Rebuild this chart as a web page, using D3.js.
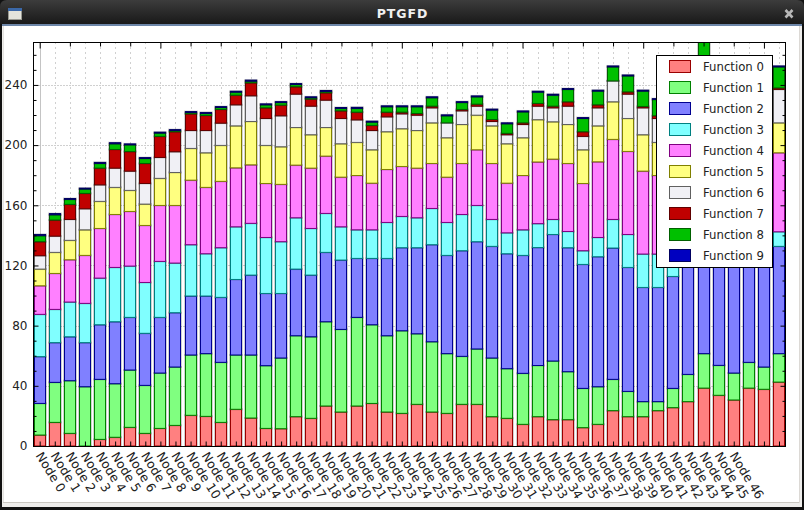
<!DOCTYPE html>
<html>
<head>
<meta charset="utf-8">
<title>PTGFD</title>
<script src="https://cdn.jsdelivr.net/npm/d3@7"></script>
<style>
  html, body { margin: 0; padding: 0; background: #fff; }
  svg { display: block; }
  text { font-family: "DejaVu Sans", sans-serif; }
</style>
</head>
<body>
<div id="chart"></div>
<script>
const width = 804;
const height = 510;
const plot = { left: 33.5, right: 785.5, top: 42.5, bottom: 446.5 };

const functionNames = ["Function 0", "Function 1", "Function 2", "Function 3", "Function 4",
                       "Function 5", "Function 6", "Function 7", "Function 8", "Function 9"];
const fills = ["#ff8080", "#80ff80", "#8080ff", "#80ffff", "#ff80ff", "#ffff80", "#f0f0f5", "#c00000", "#00c000", "#0000c0"];
const edges = ["#990000", "#008000", "#000090", "#008080", "#800080", "#808000", "#606060", "#600000", "#006000", "#000060"];

const f0 = [7.3,15.7,8.4,0,4.4,5.8,12.4,8.4,11.7,13.7,20.4,19.7,15.7,24.4,18.6,11.7,11.5,19.5,18.4,26.6,22.6,26.6,28.3,22.6,21.7,27.7,22.6,21.7,27.7,27.7,19.5,18.4,14.4,19.5,17.5,17.5,12.2,14.4,23.5,19.5,19.5,23.5,25.5,29.5,38.5,33.7,30.6,38.5,37.7,42.5];
const f1 = [21,26.6,35,39.4,39.9,35.6,38.1,31.9,36.8,38.8,40.1,41.7,39.9,36.1,41.9,41.7,47,53.8,54.2,56,54.9,58.9,52.3,50.7,54.9,46.9,46.7,39.7,31.9,36.8,39,33,33.9,34,39,31.9,26.1,25,20.8,16.8,10,6,12.8,18.1,22.9,19.9,17.9,17.1,14.8,18.9];
const f2 = [31.1,26.4,29.2,29.3,36.3,41.2,35,34.6,37,36.1,39.2,38.3,43.2,50.2,53.1,48,42.9,44.3,41,46.1,46.1,39.2,44.1,51.4,55.2,57.2,64.5,65.3,70.2,71.3,74.2,76.4,78.4,78.4,84.1,82.4,82.4,86.4,87.3,82.4,75.9,75.9,74.4,78,73.6,80,84,76,80,71.3];
const f3 = [28.1,22.1,23.1,26.1,31,36.1,34.1,33.8,37.2,33,34.1,28.1,33,35,34.4,37.2,34.4,34.1,31,25.9,22.1,19,19,23.9,20.8,19.9,24.1,21.9,24.1,24.1,17.9,13.9,17,15.9,10,10.8,9.1,12.8,19,21.9,22.2,22.2,15,10,15,10,11,10,10,9.7];
const f4 = [19,23.9,28.1,31.9,33,35.2,36.3,37.9,37.2,38.3,42.9,44.1,44.1,39.2,38.9,35.9,38.1,35,40.1,38.1,33,36.1,31,35.2,33.2,33,29.9,30.1,33.9,37,37.2,33,36.1,41,40.1,45.2,44.7,50.3,53.2,55.2,55.1,52.2,52,50,55,50,50,52,53,52.5];
const f5 = [11.1,14,12.9,17,18,18,14,14.2,18,21.9,21.1,23,23.9,27.9,28.8,25.3,25,25,22.2,19,22.2,22,22.2,25.1,25.1,25,27,26.2,25.9,23,25,26.2,25.1,28.1,24.8,25.9,22.4,23.9,25,21.9,24.2,22,24,24,27,22,23,22,22,19.9];
const f6 = [8.9,10.8,13.9,14,11,12.8,12.8,13.7,13.9,13.8,11.9,14.8,14.8,14,17.1,17.9,20.6,22.2,19,18.2,16.8,15,12.8,9.9,9.9,10.2,10,9.9,9.1,6,2.9,6,8.8,9,9.3,12.2,8.9,12,13.9,16.2,17.9,15.9,16,18,20,17,15,16,15,22.2];
const f7 = [9.3,10.7,10,10.2,11.1,12.4,13,13.3,14,13.3,11.1,10,9.1,6.4,8.6,7.1,7.1,4.9,4.7,4.9,5.1,5.1,3.4,3.1,1.1,1.1,1.1,0,0.9,1.3,1.3,0.9,1.1,1.8,1.1,2.9,3.1,2,0,1.5,0.9,1.8,1,2,2,1,1,1,1,1];
const f8 = [4,3.5,3.3,2.9,3.1,3.8,4.5,3.3,2.2,0.8,0.9,1.3,1.3,2,1.1,2,1.7,1.5,0.9,0.9,1.6,2.5,2.2,3.6,3.6,4.5,5.6,4.7,4.6,4.9,6.3,6.4,7.3,7.5,7.3,8.2,8.8,9.1,9.3,10.6,10.2,10.8,10,11,20,11,12,13,13,14];
const f9 = [0.8,0.8,0.6,0.6,0.7,0.7,0.6,0.6,0.6,0.6,0.6,0.7,0.6,0.6,0.7,0.6,0.6,0.6,0.6,0.6,0.6,0.7,0.6,0.6,0.6,0.6,0.6,0.6,0.6,0.6,0.6,0.6,0.6,0.6,0.6,0.6,0.6,0.6,0.6,0.6,0.6,0.6,0.6,0.6,0.6,0.6,0.6,0.6,0.6,0.6];

const seriesValues = [f0, f1, f2, f3, f4, f5, f6, f7, f8, f9];
const nodes = d3.range(f0.length);
const lastLabel = 46;   // the labels after this one run off the window in the original

const rows = nodes.map(i => {
  const row = { node: i };
  functionNames.forEach((name, k) => { row[name] = seriesValues[k][i]; });
  return row;
});
const stacked = d3.stack().keys(functionNames)(rows);

const x = d3.scaleLinear().domain([-0.41, 49.43]).range([plot.left, plot.right]);
const y = d3.scaleLinear().domain([0, 268.2]).range([plot.bottom - 0.5, plot.top]);
const barWidth = 12;

const svg = d3.select("#chart").append("svg")
  .attr("width", width)
  .attr("height", height);

const defs = svg.append("defs");
const titleGrad = defs.append("linearGradient").attr("id", "titlebar")
  .attr("x1", 0).attr("x2", 0).attr("y1", 0).attr("y2", 1);
titleGrad.append("stop").attr("offset", "0%").attr("stop-color", "#3c3c3c");
titleGrad.append("stop").attr("offset", "100%").attr("stop-color", "#191919");
defs.append("clipPath").attr("id", "plot-clip").append("rect")
  .attr("x", plot.left).attr("y", plot.top)
  .attr("width", plot.right - plot.left).attr("height", plot.bottom - plot.top);

// window frame
svg.append("rect").attr("width", width).attr("height", height).attr("fill", "#111");
svg.append("rect").attr("x", 2).attr("y", 24).attr("width", 800).attr("height", 483).attr("fill", "#eeedeb");
svg.append("rect").attr("x", 3).attr("y", 26).attr("width", 796.5).attr("height", 477).attr("fill", "#c9c6c0");
svg.append("rect").attr("x", 3.5).attr("y", 26).attr("width", 795.5).attr("height", 476).attr("fill", "#fff");
svg.append("path").attr("d", "M0,24V7Q0,0 7,0H797Q804,0 804,7V24Z").attr("fill", "url(#titlebar)");
svg.append("rect").attr("x", 2).attr("y", 24).attr("width", 800).attr("height", 2).attr("fill", "#6d86a8");

svg.append("text")
  .attr("x", 402.5).attr("y", 18)
  .attr("text-anchor", "middle")
  .attr("font-size", 12.5).attr("font-weight", "bold")
  .attr("letter-spacing", 0.9)
  .attr("fill", "#f0f0f0")
  .text("PTGFD");

// window icon and close button
svg.append("rect").attr("x", 8.5).attr("y", 8.5).attr("width", 13).attr("height", 11).attr("fill", "#e4e4dc").attr("stroke", "#9a9a92");
svg.append("rect").attr("x", 8).attr("y", 8).attr("width", 14).attr("height", 3).attr("fill", "#3b68a8");
svg.append("path").attr("d", "M785.5,10L792.5,17.5M792.5,10L785.5,17.5")
  .attr("stroke", "#b8b8b8").attr("stroke-width", 2.6).attr("fill", "none");

// grid
const grid = svg.append("g").attr("fill", "none");
grid.selectAll(".vgrid")
  .data(nodes.slice(1))
  .join("line")
  .attr("class", "vgrid")
  .attr("x1", d => Math.round(x(d)) + 0.5).attr("x2", d => Math.round(x(d)) + 0.5)
  .attr("y1", plot.top).attr("y2", plot.bottom)
  .attr("stroke", "#a0a0a0").attr("stroke-dasharray", "1,4");
grid.selectAll(".hgrid")
  .data([40, 80, 120, 160, 200, 240])
  .join("line")
  .attr("class", "hgrid")
  .attr("y1", d => Math.round(y(d)) + 0.5).attr("y2", d => Math.round(y(d)) + 0.5)
  .attr("x1", plot.left).attr("x2", plot.right)
  .attr("stroke", "#a0a0a0").attr("stroke-dasharray", "1,2");
grid.append("line")
  .attr("x1", Math.round(x(0)) + 0.5).attr("x2", Math.round(x(0)) + 0.5)
  .attr("y1", plot.top).attr("y2", plot.bottom)
  .attr("stroke", "#c4c4c4");

// stacked bars
const bars = svg.append("g").attr("clip-path", "url(#plot-clip)");
const layers = bars.selectAll(".layer")
  .data(stacked)
  .join("g")
  .attr("class", "layer");

layers.selectAll(".halo")
  .data(d => d.map(v => ({ v, i: d.key })))
  .join("rect")
  .attr("class", "halo")
  .attr("x", d => Math.round(x(d.v.data.node) - barWidth / 2) - 0.5)
  .attr("y", d => y(d.v[1]) - 0.5)
  .attr("width", barWidth + 1)
  .attr("height", d => Math.max(0, y(d.v[0]) - y(d.v[1])) + 1)
  .attr("fill", "none")
  .attr("stroke", "#000").attr("stroke-opacity", 0.18).attr("stroke-width", 1);

layers.selectAll(".bar")
  .data((d, k) => d.map(v => ({ v, k })))
  .join("rect")
  .attr("class", "bar")
  .attr("x", d => Math.round(x(d.v.data.node) - barWidth / 2) + 0.5)
  .attr("y", d => y(d.v[1]))
  .attr("width", barWidth - 1)
  .attr("height", d => Math.max(0, y(d.v[0]) - y(d.v[1])))
  .attr("fill", d => fills[d.k])
  .attr("stroke", d => edges[d.k]);

// axes
const labelColor = "#222";
const yMajor = [0, 40, 80, 120, 160, 200, 240];
const yMinor = d3.range(10, 270, 10).filter(v => v % 40 !== 0);

const bottomAxis = svg.append("g")
  .attr("transform", `translate(0,${plot.bottom})`)
  .call(d3.axisBottom(x).tickValues(nodes).tickSize(-5).tickSizeOuter(0)
    .tickFormat(d => d <= lastLabel ? `Node ${d}` : ""));
bottomAxis.select(".domain").remove();
bottomAxis.selectAll("line").attr("stroke", "#000");
bottomAxis.selectAll("text")
  .attr("y", 0).attr("dy", 0)
  .attr("text-anchor", "start")
  .attr("font-size", 12.5)
  .attr("font-family", "DejaVu Sans")
  .attr("fill", labelColor)
  .attr("transform", "translate(-5,9) rotate(58)");

const leftAxis = svg.append("g")
  .attr("transform", `translate(${plot.left},0)`)
  .call(d3.axisLeft(y).tickValues(yMajor).tickSize(-5).tickSizeOuter(0).tickPadding(6));
leftAxis.select(".domain").remove();
leftAxis.selectAll("line").attr("stroke", "#000");
leftAxis.selectAll("text").attr("font-size", 12).attr("font-family", "DejaVu Sans").attr("fill", labelColor);

const leftMinor = svg.append("g")
  .attr("transform", `translate(${plot.left},0)`)
  .call(d3.axisLeft(y).tickValues(yMinor).tickSize(-3).tickSizeOuter(0).tickFormat(""));
leftMinor.select(".domain").remove();

const rightAxis = svg.append("g")
  .attr("transform", `translate(${plot.right},0)`)
  .call(d3.axisRight(y).tickValues(yMajor.slice(1)).tickSize(-5).tickSizeOuter(0).tickFormat(""));
rightAxis.select(".domain").remove();
const rightMinor = svg.append("g")
  .attr("transform", `translate(${plot.right},0)`)
  .call(d3.axisRight(y).tickValues(yMinor).tickSize(-3).tickSizeOuter(0).tickFormat(""));
rightMinor.select(".domain").remove();

const topMajor = d3.range(0, 50, 8);
const topMinor = d3.range(0, 50, 2).filter(v => v % 8 !== 0);
const topA = svg.append("g")
  .attr("transform", `translate(0,${plot.top})`)
  .call(d3.axisTop(x).tickValues(topMajor).tickSize(-6).tickSizeOuter(0).tickFormat(""));
topA.select(".domain").remove();
const topB = svg.append("g")
  .attr("transform", `translate(0,${plot.top})`)
  .call(d3.axisTop(x).tickValues(topMinor).tickSize(-4).tickSizeOuter(0).tickFormat(""));
topB.select(".domain").remove();

svg.append("rect")
  .attr("x", plot.left).attr("y", plot.top)
  .attr("width", plot.right - plot.left).attr("height", plot.bottom - plot.top)
  .attr("fill", "none").attr("stroke", "#000");

// legend
const legend = svg.append("g");
legend.append("rect")
  .attr("x", 656.5).attr("y", 55.5).attr("width", 116).attr("height", 212)
  .attr("fill", "#fff").attr("stroke", "#000");
const legendY = d3.scalePoint().domain(functionNames).range([66, 255]);
const legendRows = legend.selectAll(".legend-row")
  .data(functionNames)
  .join("g")
  .attr("class", "legend-row")
  .attr("transform", d => `translate(0,${legendY(d)})`);
legendRows.append("rect")
  .attr("x", 669.5).attr("y", -5.5).attr("width", 21).attr("height", 12)
  .attr("fill", (d, i) => fills[i]).attr("stroke", (d, i) => edges[i]);
legendRows.append("text")
  .attr("x", 703).attr("y", 4.5)
  .attr("font-size", 11.7).attr("fill", labelColor)
  .text(d => d);
</script>
</body>
</html>
